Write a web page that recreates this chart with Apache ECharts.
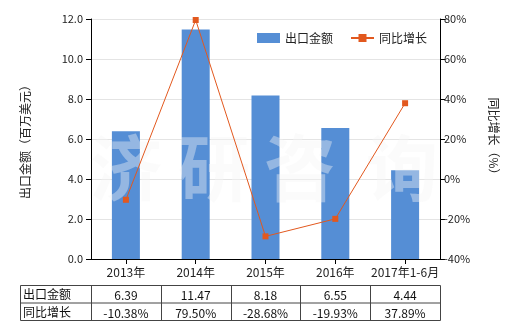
<!DOCTYPE html>
<html><head><meta charset="utf-8">
<script src="https://cdn.jsdelivr.net/npm/echarts@6/dist/echarts.min.js"></script>
<style>html,body{margin:0;padding:0;background:#fff}#c{width:520px;height:330px}</style>
</head><body><div id="c"></div>
<script>
const categories = ['2013年','2014年','2015年','2016年','2017年1-6月'];
const exportValues = [6.39, 11.47, 8.18, 6.55, 4.44];
const growthValues = [-10.38, 79.50, -28.68, -19.93, 37.89];
const exportLabels = ['6.39','11.47','8.18','6.55','4.44'];
const growthLabels = ['-10.38%','79.50%','-28.68%','-19.93%','37.89%'];
const rowNames = ['出口金额','同比增长'];
const watermark = ['济','研','咨','询'];

const FONT = '"Microsoft YaHei","Noto Sans CJK SC",sans-serif';
const chart = echarts.init(document.getElementById('c'));
const option = {
  animation:false,
  textStyle:{fontFamily:FONT},
  grid:{left:91,right:80,top:19,bottom:71},
  legend:{
    left:252, top:27, itemWidth:23, itemHeight:10, itemGap:17,
    textStyle:{fontSize:12,color:'#222',fontFamily:FONT},
    data:[{name:'出口金额',icon:'rect'},{name:'同比增长'}]
  },
  xAxis:{
    type:'category', data:categories,
    axisLine:{lineStyle:{color:'#000'}},
    axisTick:{show:true,alignWithLabel:true,length:5,lineStyle:{color:'#000'}},
    axisLabel:{color:'#222',fontSize:12,margin:7,interval:0,fontFamily:FONT}
  },
  yAxis:[{
    type:'value', min:0, max:12, interval:2,
    name:'出口金额（百万美元）', nameLocation:'middle', nameGap:60,
    nameTextStyle:{fontSize:12,color:'#222',fontFamily:FONT},
    axisLine:{show:true,lineStyle:{color:'#000'}},
    axisTick:{show:true,length:5,lineStyle:{color:'#000'}},
    axisLabel:{color:'#222',fontSize:11,formatter:v=>v.toFixed(1),margin:8},
    splitLine:{lineStyle:{color:'#e4e4e4'}}
  },{
    type:'value', min:-40, max:80, interval:20,
    name:'同比增长（%）', nameLocation:'middle', nameGap:48, nameRotate:-90,
    nameTextStyle:{fontSize:12,color:'#222',fontFamily:FONT},
    axisLine:{show:true,lineStyle:{color:'#000'}},
    axisTick:{show:true,length:5,lineStyle:{color:'#000'}},
    axisLabel:{color:'#222',fontSize:11,formatter:'{value}%',margin:4},
    splitLine:{show:false}
  }],
  series:[{
    name:'出口金额', type:'bar', data:exportValues, barWidth:28,
    itemStyle:{color:'#558ed5'}, z:2
  },{
    name:'同比增长', type:'line', yAxisIndex:1, data:growthValues,
    symbol:'rect', symbolSize:6,
    lineStyle:{color:'#e2581e',width:1},
    itemStyle:{color:'#e2581e'}, z:5
  }]
};
chart.setOption(option);

// build table and watermark from the axis geometry
const g = [];
const colX = categories.map((c,i)=>chart.convertToPixel({xAxisIndex:0}, i));
const step = colX.length>1 ? colX[1]-colX[0] : 70;
const left0 = 20, right0 = colX[colX.length-1]+step/2;
const top0 = 285, rowH = 17.5;
const lineStyle = {stroke:'#444',lineWidth:1};
g.push({type:'rect',shape:{x:left0+0.5,y:top0+0.5,width:right0-left0,height:rowH*2},style:{fill:null,stroke:'#444',lineWidth:1}});
g.push({type:'line',shape:{x1:left0,y1:top0+rowH+0.5,x2:right0,y2:top0+rowH+0.5},style:lineStyle});
for(let i=0;i<colX.length;i++){
  const x = Math.round(colX[i]-step/2)+0.5;
  g.push({type:'line',shape:{x1:x,y1:top0,x2:x,y2:top0+rowH*2},style:lineStyle});
}
const rows=[exportLabels,growthLabels];
rows.forEach((r,ri)=>{
  const cy = top0+rowH*ri+rowH/2+1;
  g.push({type:'text',x:left0+3,y:cy,style:{text:rowNames[ri],fill:'#111',font:'12px '+FONT,textAlign:'left',textVerticalAlign:'middle'}});
  r.forEach((t,i)=>{
    g.push({type:'text',x:colX[i],y:cy+1,style:{text:t,fill:'#111',font:'12px '+FONT,textAlign:'center',textVerticalAlign:'middle'}});
  });
});
const wmX=[126,214,300,402];
watermark.forEach((w,i)=>{
  g.push({type:'text',x:wmX[i],y:168,z:3,style:{text:w,fill:'rgba(246,246,246,0.4)',font:'bold 72px '+FONT,textAlign:'center',textVerticalAlign:'middle'}});
});
chart.setOption({graphic:g});
</script></body></html>
